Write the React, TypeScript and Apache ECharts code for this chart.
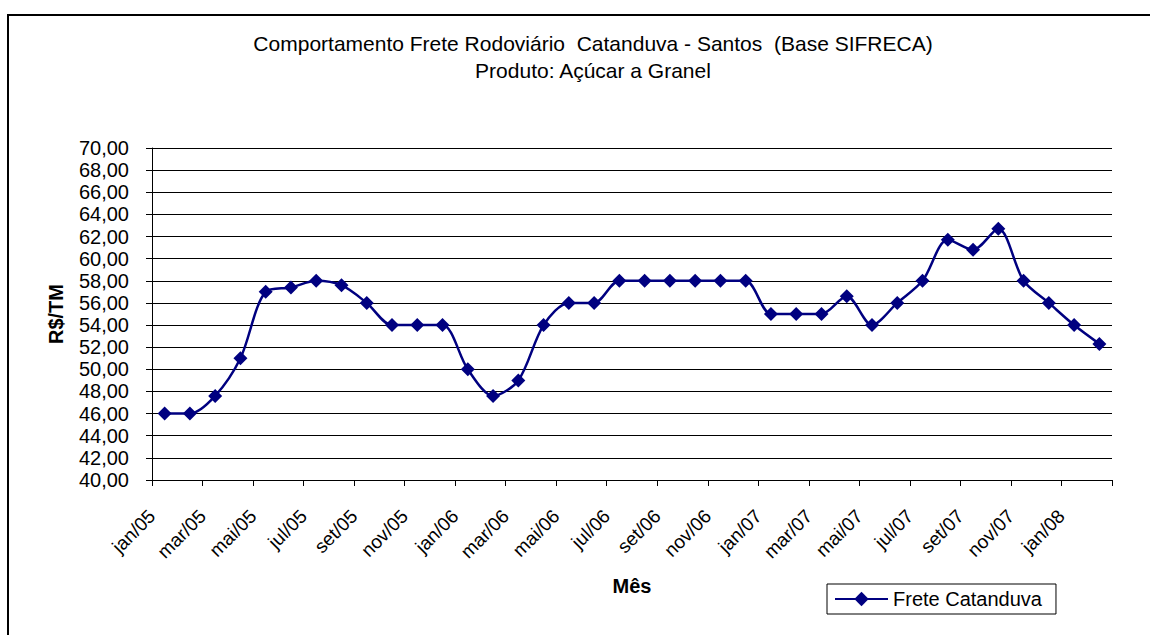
import React, { useEffect, useRef } from "react";
import * as echarts from "echarts";

const months: string[] = [
  "jan/05", "fev/05", "mar/05", "abr/05", "mai/05", "jun/05", "jul/05", "ago/05", "set/05", "out/05", "nov/05", "dez/05",
  "jan/06", "fev/06", "mar/06", "abr/06", "mai/06", "jun/06", "jul/06", "ago/06", "set/06", "out/06", "nov/06", "dez/06",
  "jan/07", "fev/07", "mar/07", "abr/07", "mai/07", "jun/07", "jul/07", "ago/07", "set/07", "out/07", "nov/07", "dez/07",
  "jan/08", "fev/08",
];

const freteCatanduva: number[] = [
  46.0, 46.0, 47.6, 51.0, 57.0, 57.4, 58.0, 57.6, 56.0, 54.0, 54.0, 54.0,
  50.0, 47.6, 49.0, 54.0, 56.0, 56.0, 58.0, 58.0, 58.0, 58.0, 58.0, 58.0,
  55.0, 55.0, 55.0, 56.6, 54.0, 56.0, 58.0, 61.7, 60.8, 62.7, 58.0, 56.0,
  54.0, 52.3,
];

const seriesName = "Frete Catanduva";
const titleLine1 = "Comportamento Frete Rodoviário  Catanduva - Santos  (Base SIFRECA)";
const titleLine2 = "Produto: Açúcar a Granel";
const yAxisName = "R$/TM";
const xAxisName = "Mês";
const yMin = 40;
const yMax = 70;
const yStep = 2;

const FONT = '"Liberation Sans", Arial, sans-serif';

export default function App() {
  const ref = useRef<HTMLDivElement>(null);

  useEffect(() => {
    if (!ref.current) return;
    const chart = echarts.init(ref.current, null, { renderer: "svg" });
    const option: any = {
      animation: false,
      backgroundColor: "#ffffff",
      textStyle: { fontFamily: FONT, color: "#000" },
      title: {
        text: titleLine1 + "\n" + titleLine2,
        left: 593,
        top: 30,
        padding: 0,
        textAlign: "center",
        textStyle: {
          fontFamily: FONT,
          fontSize: 21,
          fontWeight: "normal",
          color: "#000",
          lineHeight: 27,
        },
      },
      graphic: [
        {
          type: "rect",
          shape: { x: 8, y: 15, width: 1170, height: 640 },
          style: { fill: "none", stroke: "#000", lineWidth: 2 },
          silent: true,
          z: -1,
        },
      ],
      legend: {
        left: 827,
        top: 584,
        orient: "horizontal",
        padding: [5, 14, 5, 7],
        borderColor: "#000",
        borderWidth: 1,
        itemWidth: 53,
        itemHeight: 18,
        itemGap: 5,
        textStyle: { fontFamily: FONT, fontSize: 20, color: "#000" },
        data: [seriesName],
      },
      grid: { left: 152, top: 148, right: 38, bottom: 155, containLabel: false },
      xAxis: [
        {
          type: "category",
          data: months,
          boundaryGap: true,
          position: "bottom",
          axisLine: { show: true, lineStyle: { color: "#000", width: 1 } },
          axisTick: { show: false },
          axisLabel: { show: false },
          splitLine: { show: false },
        },
        {
          type: "value",
          min: 0,
          max: months.length,
          interval: 2,
          position: "bottom",
          name: xAxisName,
          nameLocation: "middle",
          nameGap: 96,
          nameTextStyle: { fontFamily: FONT, fontSize: 20, fontWeight: "bold", color: "#000" },
          axisLine: { show: false },
          axisTick: { show: true, length: 6, lineStyle: { color: "#000", width: 1 } },
          axisLabel: {
            show: true,
            rotate: 45,
            margin: 33,
            fontFamily: FONT,
            fontSize: 19,
            color: "#000",
            showMinLabel: true,
            showMaxLabel: true,
            formatter: (v: number) => months[Math.round(v)] ?? "",
          },
          splitLine: { show: false },
        },
      ],
      yAxis: {
        type: "value",
        min: yMin,
        max: yMax,
        interval: yStep,
        name: yAxisName,
        nameLocation: "middle",
        nameGap: 86,
        nameRotate: 90,
        nameTextStyle: { fontFamily: FONT, fontSize: 20, fontWeight: "bold", color: "#000" },
        axisLine: { show: true, lineStyle: { color: "#000", width: 1 } },
        axisTick: { show: true, length: 6, lineStyle: { color: "#000", width: 1 } },
        axisLabel: {
          margin: 23,
          fontFamily: FONT,
          fontSize: 20,
          color: "#000",
          formatter: (v: number) => v.toFixed(2).replace(".", ","),
        },
        splitLine: { show: true, lineStyle: { color: "#000", width: 1 } },
      },
      series: [
        {
          name: seriesName,
          type: "line",
          xAxisIndex: 0,
          data: freteCatanduva,
          smooth: 0.3,
          symbol: "diamond",
          symbolSize: 14,
          lineStyle: { color: "#000080", width: 2.5 },
          itemStyle: { color: "#000080" },
        },
      ],
    };
    chart.setOption(option);
    return () => chart.dispose();
  }, []);

  return (
    <div
      ref={ref}
      style={{ position: "fixed", left: 0, top: 0, width: 1150, height: 635, background: "#fff" }}
    />
  );
}
